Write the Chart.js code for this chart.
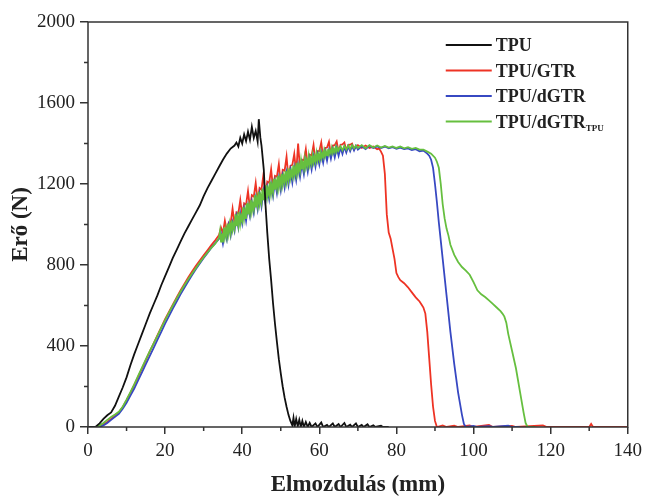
<!DOCTYPE html>
<html>
<head>
<meta charset="utf-8">
<style>
  html, body { margin: 0; padding: 0; background: #fff; }
  #wrap { width: 648px; height: 499px; }
</style>
</head>
<body>
<div id="wrap"><canvas id="forceChart"></canvas></div>
<script src="https://cdn.jsdelivr.net/npm/chart.js"></script>
<script>
const seriesLabels = ['TPU', 'TPU/GTR', 'TPU/dGTR', 'TPU/dGTR_TPU'];
const seriesColors = ['#111111', '#ee3324', '#3748c2', '#66bf3f'];
const xTicks = [0, 20, 40, 60, 80, 100, 120, 140];
const xMinor = [10, 30, 50, 70, 90, 110, 130];
const yTicks = [0, 400, 800, 1200, 1600, 2000];
const yMinor = [200, 600, 1000, 1400, 1800];

// [elmozdulás mm, erő N]
const tpu = [
  [0,0],[1,0],[2,2],[3,18],[4,40],[5,58],[6,72],[7,105],[8,150],[9,195],[10,245],[11,305],[12,360],[13,410],
  [14,460],[15,510],[16,560],[17,605],[18,650],[19,700],[20,745],[21,790],[22,835],[23,875],[24,915],[25,955],
  [26,990],[27,1025],[28,1060],[29,1095],[30,1140],[31,1180],[32,1215],[33,1250],[34,1285],[35,1320],[36,1350],
  [37,1375],[38,1390],[38.5,1405],[39,1385],[39.5,1428],[40,1400],[40.5,1445],[41,1412],[41.5,1458],[42,1418],
  [42.5,1482],[43,1428],[43.5,1462],[44,1410],[44.3,1520],[44.7,1430],[45,1390],[45.3,1330],[45.6,1270],
  [46,1110],[46.5,960],[47,830],[47.5,725],[48,610],[48.5,510],[49,420],[49.5,335],[50,265],[50.5,200],
  [51,145],[51.5,100],[52,60],[52.5,30],[53,8],[53.3,45],[53.6,2],[54,40],[54.4,3],[54.8,35],[55.2,0],
  [55.6,30],[56,0],[56.5,25],[57,0],[57.5,20],[58,0],[59,18],[59.5,0],[60.5,22],[61,0],[62,10],[62.5,0],
  [63.5,18],[64,0],[65,15],[65.5,0],[66.5,20],[67,0],[68,12],[68.5,0],[69.5,18],[70,0],[71,10],[71.5,0],
  [72.5,14],[73,0],[74,8],[74.5,0],[76,6],[76.5,0],[78,0]
];
const tpuGtr = [
  [0,0],[2,0],[3,3],[4,12],[5,25],[6,40],[7,55],[8,72],[9,98],[10,132],[11,168],[12,208],[13,248],[14,288],
  [15,330],[16,372],[17,412],[18,452],[19,492],[20,532],[21,568],[22,604],[23,640],[24,674],[25,706],[26,738],
  [27,768],[28,796],[29,822],[30,848],[31,873],[32,898],[33,922],[34,948],[34.5,985],[35,958],[35.5,1018],
  [36,968],[36.5,1010],[37,1005],[37.5,1078],[38,1005],[38.5,1060],[39,1055],[39.5,1120],[40,1045],[40.5,1105],
  [41,1098],[41.5,1165],[42,1080],[42.5,1145],[43,1138],[43.5,1205],[44,1115],[44.5,1180],[45,1172],
  [45.5,1245],[46,1145],[46.5,1212],[47,1205],[47.5,1272],[48,1178],[48.5,1240],[49,1236],[49.5,1298],
  [50,1200],[50.5,1270],[51,1266],[51.5,1335],[52,1228],[52.5,1290],[53,1294],[53.5,1348],[54,1255],
  [54.5,1400],[55,1272],[55.5,1320],[56,1316],[56.5,1372],[57,1286],[57.5,1345],[58,1340],[58.5,1392],
  [59,1310],[59.5,1362],[60,1362],[60.5,1405],[61,1330],[61.5,1378],[62,1380],[62.5,1408],[63,1345],
  [63.5,1390],[64,1392],[64.5,1410],[65,1358],[65.5,1394],[66,1396],[66.5,1405],[67,1365],[67.5,1392],
  [68,1394],[68.5,1400],[69,1372],[70,1392],[71,1378],[72,1390],[73,1378],[74,1385],[75,1372],[75.5,1375],
  [76,1360],[76.5,1340],[77,1250],[77.5,1050],[78,960],[78.5,930],[79,880],[79.5,830],[80,760],[80.5,740],
  [81,725],[82,710],[83,690],[84,665],[85,640],[86,620],[86.5,605],[87,590],[87.5,560],[88,470],[88.5,340],
  [89,210],[89.5,100],[90,30],[90.5,0],[92,8],[93,0],[95,6],[96,0],[99,8],[100,0],[104,10],[105,0],
  [110,5],[111,0],[118,8],[119,0],[130,0],[130.5,15],[131,0],[140,0]
];
const tpuDgtr = [
  [0,0],[2,0],[3,2],[4,8],[5,20],[6,35],[7,50],[8,65],[9,90],[10,120],[11,155],[12,190],[13,230],[14,270],
  [15,310],[16,350],[17,390],[18,430],[19,470],[20,510],[21,548],[22,585],[23,620],[24,655],[25,688],[26,720],
  [27,750],[28,780],[29,808],[30,835],[31,860],[32,885],[33,908],[34,930],[34.5,955],[35,905],[35.5,960],
  [36,925],[36.5,995],[37,945],[37.5,1010],[38,968],[38.5,1040],[39,985],[39.5,1055],[40,1005],[40.5,1078],
  [41,1018],[41.5,1090],[42,1040],[42.5,1112],[43,1058],[43.5,1130],[44,1075],[44.5,1150],[45,1090],
  [45.5,1165],[46,1108],[46.5,1182],[47,1125],[47.5,1198],[48,1140],[48.5,1212],[49,1155],[49.5,1228],
  [50,1168],[50.5,1240],[51,1182],[51.5,1255],[52,1195],[52.5,1268],[53,1208],[53.5,1280],[54,1220],
  [54.5,1292],[55,1235],[55.5,1302],[56,1248],[56.5,1315],[57,1260],[57.5,1325],[58,1272],[58.5,1335],
  [59,1285],[59.5,1345],[60,1296],[60.5,1352],[61,1305],[61.5,1360],[62,1315],[62.5,1366],[63,1325],
  [63.5,1372],[64,1332],[64.5,1378],[65,1340],[65.5,1380],[66,1348],[66.5,1384],[67,1355],[67.5,1386],
  [68,1362],[68.5,1388],[69,1366],[69.5,1388],[70,1370],[71,1386],[72,1372],[73,1388],[74,1378],[75,1386],
  [76,1378],[77,1385],[78,1376],[79,1382],[80,1374],[81,1380],[82,1372],[83,1376],[84,1368],[85,1372],
  [86,1362],[87,1365],[88,1350],[88.5,1340],[89,1320],[89.5,1280],[90,1200],[90.5,1110],[91,1010],
  [91.5,920],[92,830],[93,650],[94,470],[95,310],[96,170],[97,60],[97.5,15],[98,0],[100,5],[101,0],
  [104,4],[105,0],[109,6],[110,0],[112,0]
];
const tpuDgtrTpu = [
  [0,0],[2,0],[2.5,3],[3,8],[4,20],[5,35],[6,50],[7,62],[8,75],[9,100],[10,135],[11,172],[12,210],[13,252],
  [14,293],[15,334],[16,374],[17,412],[18,450],[19,490],[20,528],[21,565],[22,600],[23,635],[24,668],[25,700],
  [26,730],[27,758],[28,785],[29,812],[30,838],[31,862],[32,885],[33,905],[34,935],[34.25,968],[34.5,915],
  [34.75,955],[35,912],[35.25,985],[35.5,940],[35.75,975],[36,942],[36.25,1005],[36.5,958],[36.75,1000],
  [37,962],[37.25,1020],[37.5,975],[37.75,1002],[38,980],[38.25,1050],[38.5,992],[38.75,1035],[39,998],
  [39.25,1062],[39.5,1005],[39.75,1040],[40,1020],[40.25,1085],[40.5,1030],[40.75,1068],[41,1028],
  [41.25,1105],[41.5,1050],[41.75,1090],[42,1058],[42.25,1120],[42.5,1066],[42.75,1100],[43,1075],
  [43.25,1145],[43.5,1085],[43.75,1128],[44,1095],[44.25,1162],[44.5,1105],[44.75,1140],[45,1110],
  [45.25,1178],[45.5,1120],[45.75,1160],[46,1128],[46.25,1195],[46.5,1140],[46.75,1175],[47,1148],
  [47.25,1212],[47.5,1155],[47.75,1195],[48,1160],[48.25,1225],[48.5,1172],[48.75,1210],[49,1180],
  [49.25,1240],[49.5,1185],[49.75,1225],[50,1192],[50.25,1250],[50.5,1200],[50.75,1238],[51,1210],
  [51.25,1265],[51.5,1215],[51.75,1255],[52,1222],[52.25,1278],[52.5,1232],[52.75,1262],[53,1238],
  [53.25,1292],[53.5,1246],[53.75,1280],[54,1250],[54.25,1305],[54.5,1258],[54.75,1292],[55,1265],
  [55.25,1315],[55.5,1272],[55.75,1302],[56,1275],[56.25,1325],[56.5,1285],[56.75,1315],[57,1290],
  [57.25,1336],[57.5,1296],[57.75,1325],[58,1300],[58.25,1342],[58.5,1308],[58.75,1335],[59,1312],
  [59.25,1352],[59.5,1318],[59.75,1345],[60,1322],[60.25,1358],[60.5,1328],[60.75,1352],[61,1334],
  [61.25,1365],[61.5,1338],[61.75,1360],[62,1342],[62.25,1372],[62.5,1348],[62.75,1366],[63,1352],
  [63.25,1378],[63.5,1355],[63.75,1372],[64,1358],[64.25,1382],[64.5,1362],[64.75,1378],[65,1365],
  [65.5,1386],[66,1366],[66.5,1388],[67,1370],[67.5,1390],[68,1372],[68.5,1392],[69,1376],[69.5,1390],
  [70,1378],[71,1392],[72,1376],[73,1392],[74,1380],[75,1390],[76,1380],[77,1388],[78,1380],[79,1386],
  [80,1378],[81,1385],[82,1376],[83,1382],[84,1374],[85,1378],[86,1370],[87,1370],[88,1360],[89,1350],
  [90,1330],[90.5,1310],[91,1280],[91.5,1200],[92,1100],[92.5,1030],[93,980],[93.5,945],[94,900],[95,850],
  [96,815],[97,790],[98,772],[99,752],[100,715],[101,675],[102,655],[103,642],[104,625],[105,608],[106,590],
  [107,572],[107.5,560],[108,545],[108.5,515],[109,460],[110,375],[111,290],[112,180],[113,70],[113.5,20],
  [114,0],[116,0]
];
const seriesData = [tpu, tpuGtr, tpuDgtr, tpuDgtrTpu];
const drawOrder = [0, 3, 2, 1];

const serif = 'Liberation Serif, Times New Roman, serif';
const axisColor = '#333333';

const frameAndLegend = {
  id: 'frameAndLegend',
  afterDatasetsDraw(chart) {
    const {ctx, chartArea: a, scales: {x, y}} = chart;
    ctx.save();
    ctx.strokeStyle = axisColor;
    ctx.lineWidth = 1.5;
    ctx.strokeRect(a.left, a.top, a.right - a.left, a.bottom - a.top);
    ctx.beginPath();
    xMinor.forEach(v => {
      const px = x.getPixelForValue(v);
      ctx.moveTo(px, a.bottom);
      ctx.lineTo(px, a.bottom + 4);
    });
    yMinor.forEach(v => {
      const py = y.getPixelForValue(v);
      ctx.moveTo(a.left, py);
      ctx.lineTo(a.left - 4, py);
    });
    ctx.stroke();

    // legend inside the plot, top right
    const lx = a.right - 182, ly = a.top + 23;
    chart.data.datasets.forEach((ds, i) => {
      const rowY = ly + i * 25.5;
      ctx.strokeStyle = ds.borderColor;
      ctx.lineWidth = 2;
      ctx.beginPath();
      ctx.moveTo(lx, rowY);
      ctx.lineTo(lx + 46, rowY);
      ctx.stroke();
      const [main, sub] = ds.label.split('_');
      ctx.fillStyle = '#222';
      ctx.textBaseline = 'alphabetic';
      ctx.font = 'bold 18px ' + serif;
      ctx.fillText(main, lx + 50, rowY + 6);
      if (sub) {
        const w = ctx.measureText(main).width;
        ctx.font = 'bold 9px ' + serif;
        ctx.fillText(sub, lx + 50 + w, rowY + 9);
      }
    });
    ctx.restore();
  }
};

new Chart(document.getElementById('forceChart'), {
  type: 'scatter',
  data: {
    datasets: seriesLabels.map((label, i) => ({
      label,
      data: seriesData[i].map(([x, y]) => ({x, y})),
      showLine: true,
      borderColor: seriesColors[i],
      backgroundColor: seriesColors[i],
      borderWidth: 1.8,
      pointRadius: 0,
      tension: 0,
      order: drawOrder[i]
    }))
  },
  options: {
    responsive: true,
    maintainAspectRatio: false,
    animation: false,
    layout: { padding: { left: 0, right: 19, top: 22, bottom: 0 } },
    plugins: { legend: { display: false }, tooltip: { enabled: false } },
    scales: {
      x: {
        type: 'linear',
        min: 0, max: 140,
        afterBuildTicks: s => { s.ticks = xTicks.map(v => ({value: v})); },
        afterFit: s => { s.height = 72; },
        ticks: { font: { family: serif, size: 19 }, color: '#222', padding: 6, maxRotation: 0,
                 callback: v => String(v) },
        grid: { drawOnChartArea: false, tickLength: 7, color: axisColor, lineWidth: 1.5 },
        border: { display: false },
        title: { display: true, text: 'Elmozdulás (mm)', font: { family: serif, size: 23, weight: 'bold' },
                 color: '#222', padding: { top: 0, bottom: 0 } }
      },
      y: {
        min: 0, max: 2000,
        afterBuildTicks: s => { s.ticks = yTicks.map(v => ({value: v})); },
        afterFit: s => { s.width = 88; },
        ticks: { font: { family: serif, size: 19 }, color: '#222', padding: 5,
                 callback: v => String(v) },
        grid: { drawOnChartArea: false, tickLength: 8, color: axisColor, lineWidth: 1.5 },
        border: { display: false },
        title: { display: true, text: 'Erő (N)', font: { family: serif, size: 23, weight: 'bold' },
                 color: '#222', padding: { top: 7, bottom: 0 } }
      }
    }
  },
  plugins: [frameAndLegend]
});
</script>
</body>
</html>
